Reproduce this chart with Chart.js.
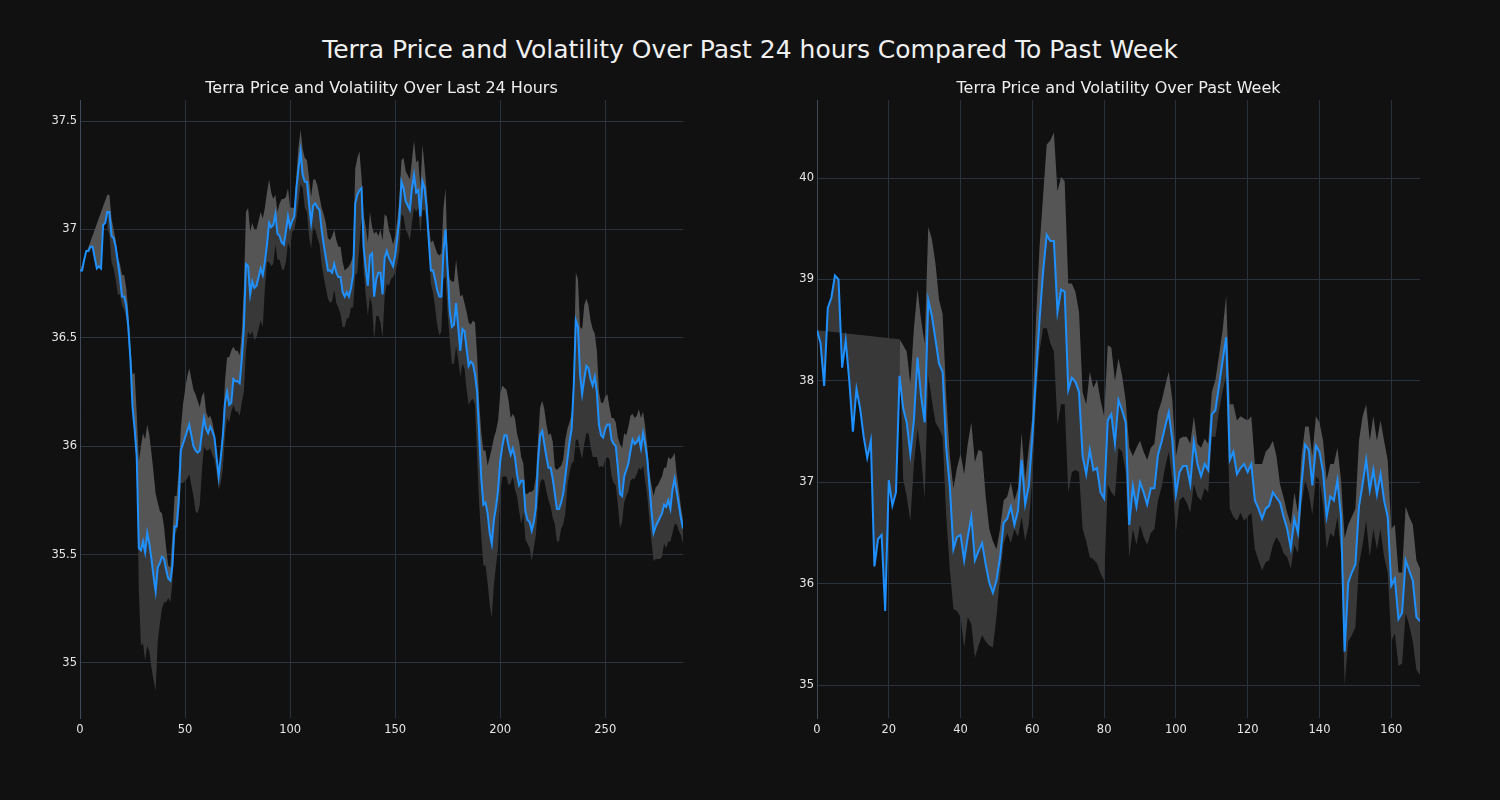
<!DOCTYPE html>
<html>
<head>
<meta charset="utf-8">
<title>Terra Price and Volatility</title>
<script src="https://cdn.jsdelivr.net/npm/chart.js@4.4.1/dist/chart.umd.min.js"></script>
<style>
  html, body { margin: 0; padding: 0; background: #111111; }
  body { width: 1500px; height: 800px; position: relative; overflow: hidden; font-family: 'DejaVu Sans', sans-serif; }
  #title { position: absolute; left: 0; top: 34px; width: 1500px; text-align: center; color: #f0f0f0; font-size: 25px; line-height: 32px; }
  canvas { position: absolute; }
  #dayChart { left: 20px; top: 70px; }
  #weekChart { left: 757px; top: 70px; }
</style>
</head>
<body>
<div id="title">Terra Price and Volatility Over Past 24 hours Compared To Past Week</div>
<canvas id="dayChart" width="680" height="700"></canvas>
<canvas id="weekChart" width="680" height="700"></canvas>
<script>
// Last 24 hours, 5 minute steps (index 0..287)
const dayPrice = [
  36.81, 36.81, 36.86, 36.90, 36.90, 36.92, 36.92, 36.87, 36.82, 36.83,
  36.82, 37.02, 37.03, 37.08, 37.08, 36.97, 36.96, 36.92, 36.85, 36.78,
  36.69, 36.69, 36.65, 36.55, 36.40, 36.18, 36.08, 35.95, 35.53, 35.52,
  35.56, 35.51, 35.60, 35.55, 35.48, 35.40, 35.33, 35.44, 35.46, 35.49,
  35.48, 35.43, 35.39, 35.38, 35.45, 35.63, 35.63, 35.75, 35.98, 36.01,
  36.04, 36.07, 36.10, 36.05, 36.00, 35.98, 35.97, 35.98, 36.06, 36.13,
  36.08, 36.06, 36.09, 36.07, 36.04, 35.95, 35.86, 35.95, 36.05, 36.20,
  36.25, 36.19, 36.20, 36.31, 36.30, 36.30, 36.29, 36.40, 36.55, 36.84,
  36.83, 36.70, 36.76, 36.73, 36.74, 36.78, 36.82, 36.79, 36.85, 36.93,
  37.03, 37.01, 37.02, 37.07, 36.98, 36.97, 36.94, 36.93, 36.99, 37.06,
  37.01, 37.04, 37.06, 37.19, 37.28, 37.36, 37.25, 37.22, 37.22, 37.12,
  37.03, 37.11, 37.12, 37.10, 37.09, 37.00, 36.93, 36.87, 36.81, 36.81,
  36.80, 36.84, 36.80, 36.78, 36.78, 36.71, 36.69, 36.71, 36.69, 36.73,
  36.79, 37.12, 37.16, 37.18, 37.19, 36.92, 36.82, 36.74, 36.88, 36.89,
  36.69, 36.77, 36.80, 36.80, 36.70, 36.87, 36.90, 36.87, 36.85, 36.83,
  36.88, 36.96, 37.05, 37.22, 37.19, 37.13, 37.11, 37.09, 37.19, 37.25,
  37.17, 37.18, 37.06, 37.22, 37.19, 37.10, 36.95, 36.81, 36.81, 36.77,
  36.72, 36.69, 36.69, 36.90, 37.00, 36.81, 36.62, 36.55, 36.56, 36.66,
  36.55, 36.44, 36.54, 36.53, 36.45, 36.37, 36.39, 36.38, 36.33, 36.25,
  36.05, 35.85, 35.73, 35.74, 35.69, 35.60, 35.55, 35.66, 35.72, 35.80,
  35.93, 36.00, 36.05, 36.05, 36.00, 35.96, 35.99, 35.95, 35.87, 35.82,
  35.84, 35.84, 35.70, 35.66, 35.65, 35.61, 35.65, 35.72, 35.93, 36.05,
  36.07, 36.01, 35.95, 35.90, 35.90, 35.85, 35.78, 35.71, 35.71, 35.74,
  35.78, 35.86, 35.94, 36.02, 36.08, 36.28, 36.58, 36.55, 36.33, 36.24,
  36.31, 36.37, 36.36, 36.31, 36.28, 36.32, 36.25, 36.10, 36.05, 36.04,
  36.08, 36.10, 36.10, 36.03, 36.01, 36.00, 35.90, 35.78, 35.77, 35.86,
  35.89, 35.92, 35.98, 36.03, 36.01, 36.02, 36.04, 35.99, 36.06, 36.01,
  35.94, 35.82, 35.70, 35.60, 35.63, 35.65, 35.67, 35.69, 35.73, 35.72,
  35.75, 35.71, 35.80, 35.85, 35.79, 35.73, 35.67, 35.62
];
// distance from price up to the top of the volatility band
const dayBandUp = [
  0, null, null, null, null, null, null, null, null, null,
  null, null, null, 0.08, 0.08, 0.08, 0.04, 0.03, 0.02, 0.06,
  0.10, 0.10, 0.08, 0.07, 0.06, 0.15, 0.26, 0.20, 0.40, 0.48,
  0.50, 0.52, 0.50, 0.50, 0.49, 0.48, 0.45, 0.30, 0.24, 0.20,
  0.15, 0.10, 0.06, 0.06, 0.14, 0.14, 0.14, 0.14, 0.10, 0.18,
  0.22, 0.25, 0.26, 0.26, 0.26, 0.26, 0.24, 0.20, 0.17, 0.12,
  0.08, 0.07, 0.05, 0.04, 0.02, 0.02, 0.02, 0.02, 0.04, 0.10,
  0.16, 0.22, 0.24, 0.15, 0.14, 0.14, 0.13, 0.12, 0.18, 0.24,
  0.27, 0.29, 0.27, 0.27, 0.26, 0.26, 0.26, 0.26, 0.25, 0.24,
  0.20, 0.16, 0.12, 0.09, 0.10, 0.15, 0.20, 0.21, 0.16, 0.13,
  0.09, 0.06, 0.04, 0.06, 0.10, 0.10, 0.12, 0.11, 0.10, 0.12,
  0.12, 0.12, 0.11, 0.10, 0.06, 0.10, 0.14, 0.16, 0.15, 0.14,
  0.17, 0.16, 0.15, 0.14, 0.14, 0.14, 0.12, 0.11, 0.14, 0.12,
  0.09, 0.16, 0.17, 0.18, 0.05, 0.15, 0.19, 0.20, 0.20, 0.12,
  0.29, 0.22, 0.17, 0.20, 0.25, 0.20, 0.16, 0.13, 0.12, 0.10,
  0.09, 0.08, 0.09, 0.10, 0.14, 0.14, 0.14, 0.14, 0.13, 0.16,
  0.14, 0.14, 0.13, 0.17, 0.10, 0.08, 0.07, 0.13, 0.14, 0.15,
  0.17, 0.19, 0.20, 0.20, 0.19, 0.04, 0.15, 0.21, 0.20, 0.20,
  0.22, 0.25, 0.16, 0.13, 0.17, 0.20, 0.17, 0.20, 0.24, 0.17,
  0.15, 0.21, 0.25, 0.24, 0.22, 0.35, 0.44, 0.38, 0.35, 0.32,
  0.31, 0.28, 0.22, 0.21, 0.21, 0.17, 0.16, 0.18, 0.19, 0.20,
  0.11, 0.08, 0.08, 0.12, 0.14, 0.18, 0.15, 0.14, 0.10, 0.13,
  0.14, 0.16, 0.15, 0.15, 0.16, 0.17, 0.12, 0.18, 0.19, 0.17,
  0.16, 0.17, 0.14, 0.09, 0.07, 0.06, 0.22, 0.22, 0.22, 0.30,
  0.34, 0.31, 0.29, 0.27, 0.26, 0.20, 0.19, 0.15, 0.15, 0.16,
  0.15, 0.14, 0.08, 0.10, 0.12, 0.11, 0.14, 0.23, 0.22, 0.20,
  0.16, 0.17, 0.16, 0.12, 0.12, 0.12, 0.13, 0.14, 0.10, 0.08,
  0.06, 0.06, 0.12, 0.17, 0.18, 0.17, 0.17, 0.17, 0.17, 0.18,
  0.20, 0.23, 0.15, 0.12, 0.08, 0.07, 0.05, 0.04
];
// distance from price down to the bottom of the volatility band
const dayBandDown = [
  null, null, null, null, null, null, null, null, null, null,
  null, null, null, 0.08, 0.10, 0.12, 0.14, 0.15, 0.15, 0.08,
  0.04, 0.06, 0.06, 0.05, 0.05, 0.04, 0.03, 0.03, 0.20, 0.44,
  0.47, 0.50, 0.52, 0.50, 0.50, 0.48, 0.46, 0.34, 0.28, 0.24,
  0.20, 0.15, 0.09, 0.10, 0.08, 0.04, 0.02, 0.08, 0.15, 0.18,
  0.20, 0.22, 0.23, 0.23, 0.23, 0.28, 0.28, 0.25, 0.18, 0.13,
  0.10, 0.08, 0.10, 0.11, 0.10, 0.07, 0.06, 0.12, 0.15, 0.15,
  0.12, 0.08, 0.04, 0.12, 0.14, 0.14, 0.15, 0.20, 0.30, 0.40,
  0.30, 0.19, 0.23, 0.24, 0.24, 0.24, 0.24, 0.24, 0.12, 0.08,
  0.18, 0.18, 0.18, 0.14, 0.12, 0.11, 0.12, 0.12, 0.14, 0.12,
  0.10, 0.05, 0.06, 0.14, 0.15, 0.15, 0.06, 0.12, 0.14, 0.15,
  0.12, 0.10, 0.12, 0.14, 0.16, 0.16, 0.15, 0.14, 0.13, 0.15,
  0.13, 0.12, 0.14, 0.14, 0.17, 0.16, 0.14, 0.12, 0.10, 0.09,
  0.15, 0.33, 0.36, 0.25, 0.13, 0.11, 0.12, 0.14, 0.19, 0.24,
  0.20, 0.17, 0.20, 0.23, 0.20, 0.18, 0.15, 0.13, 0.08, 0.05,
  0.08, 0.12, 0.15, 0.15, 0.13, 0.13, 0.13, 0.14, 0.16, 0.15,
  0.09, 0.08, 0.08, 0.13, 0.10, 0.06, 0.03, 0.06, 0.10, 0.13,
  0.16, 0.18, 0.16, 0.13, 0.22, 0.20, 0.13, 0.17, 0.18, 0.20,
  0.15, 0.12, 0.16, 0.17, 0.19, 0.18, 0.18, 0.16, 0.14, 0.30,
  0.32, 0.27, 0.28, 0.29, 0.32, 0.33, 0.34, 0.30, 0.27, 0.27,
  0.15, 0.14, 0.19, 0.19, 0.18, 0.13, 0.13, 0.15, 0.10, 0.12,
  0.20, 0.15, 0.13, 0.11, 0.12, 0.14, 0.12, 0.13, 0.18, 0.22,
  0.22, 0.17, 0.16, 0.15, 0.18, 0.18, 0.14, 0.15, 0.15, 0.12,
  0.14, 0.17, 0.12, 0.14, 0.16, 0.35, 0.55, 0.52, 0.35, 0.30,
  0.30, 0.31, 0.30, 0.31, 0.33, 0.37, 0.30, 0.20, 0.14, 0.14,
  0.14, 0.15, 0.16, 0.17, 0.18, 0.18, 0.17, 0.16, 0.12, 0.12,
  0.12, 0.13, 0.14, 0.18, 0.16, 0.15, 0.14, 0.10, 0.15, 0.17,
  0.17, 0.16, 0.14, 0.13, 0.15, 0.17, 0.19, 0.20, 0.18, 0.19,
  0.19, 0.15, 0.20, 0.21, 0.15, 0.12, 0.08, 0.07
];

// Past week, hourly (index 0..168)
const weekPrice = [
  38.50, 38.37, 37.95, 38.72, 38.82, 39.04, 39.00, 38.13, 38.40, 38.00,
  37.50, 37.92, 37.73, 37.45, 37.24, 37.41, 36.17, 36.44, 36.48, 35.73,
  37.02, 36.77, 36.90, 38.05, 37.73, 37.59, 37.28, 37.61, 38.23, 37.85,
  37.59, 38.80, 38.64, 38.41, 38.17, 38.09, 37.34, 36.96, 36.34, 36.46,
  36.48, 36.23, 36.46, 36.66, 36.23, 36.32, 36.40, 36.19, 36.01, 35.91,
  36.03, 36.26, 36.60, 36.64, 36.76, 36.58, 36.72, 37.22, 36.78, 36.96,
  37.45, 38.05, 38.60, 39.08, 39.44, 39.38, 39.38, 38.68, 38.90, 38.88,
  37.91, 38.03, 37.99, 37.89, 37.26, 37.08, 37.32, 37.12, 37.14, 36.90,
  36.84, 37.61, 37.67, 37.38, 37.81, 37.71, 37.59, 36.58, 36.96, 36.76,
  37.00, 36.90, 36.78, 36.94, 36.94, 37.27, 37.40, 37.55, 37.69, 37.41,
  36.88, 37.10, 37.16, 37.16, 36.98, 37.40, 37.18, 37.06, 37.18, 37.12,
  37.67, 37.71, 37.95, 38.20, 38.43, 37.22, 37.30, 37.08, 37.14, 37.18,
  37.10, 37.18, 36.82, 36.74, 36.64, 36.74, 36.77, 36.90, 36.85, 36.80,
  36.66, 36.54, 36.35, 36.64, 36.50, 36.98, 37.37, 37.32, 36.97, 37.36,
  37.30, 37.10, 36.66, 36.86, 36.82, 37.02, 36.66, 35.33, 36.01, 36.11,
  36.19, 36.76, 36.98, 37.22, 36.92, 37.12, 36.88, 37.08, 36.82, 36.66,
  35.98, 36.05, 35.65, 35.71, 36.23, 36.13, 36.03, 35.67, 35.63
];
const weekUpper = [
  null, null, null, null, null, null, null, null, null, null,
  null, null, null, null, null, null, null, null, null, null,
  null, null, null, 38.41, 38.35, 38.29, 37.97, 38.52, 38.90, 38.60,
  38.37, 39.52, 39.40, 39.16, 38.80, 38.66, 37.85, 37.26, 36.94, 37.14,
  37.28, 37.08, 37.38, 37.59, 37.20, 37.32, 37.30, 36.86, 36.54, 36.42,
  36.34, 36.54, 36.82, 36.86, 37.00, 36.82, 36.94, 37.49, 37.02, 37.34,
  37.65, 38.60, 39.32, 39.83, 40.33, 40.37, 40.45, 39.87, 40.01, 39.97,
  38.96, 38.96, 38.88, 38.68, 37.89, 37.77, 38.09, 37.93, 38.01, 37.81,
  37.65, 38.35, 38.33, 38.00, 38.22, 38.05, 37.81, 37.34, 37.26, 37.34,
  37.41, 37.30, 37.22, 37.34, 37.38, 37.69, 37.80, 37.95, 38.09, 37.81,
  37.26, 37.43, 37.45, 37.45, 37.38, 37.65, 37.38, 37.34, 37.43, 37.38,
  37.89, 38.01, 38.25, 38.50, 38.84, 37.77, 37.77, 37.61, 37.65, 37.63,
  37.61, 37.65, 37.18, 37.18, 37.18, 37.30, 37.34, 37.41, 37.26, 36.98,
  36.85, 36.70, 36.58, 36.90, 36.70, 37.26, 37.55, 37.55, 37.26, 37.65,
  37.59, 37.41, 37.02, 37.18, 37.18, 37.34, 37.02, 36.45, 36.58, 36.66,
  36.74, 37.41, 37.65, 37.77, 37.41, 37.65, 37.41, 37.61, 37.41, 37.22,
  36.54, 36.58, 36.11, 36.11, 36.76, 36.66, 36.58, 36.23, 36.15
];
const weekLower = [
  38.50, null, null, null, null, null, null, null, null, null,
  null, null, null, null, null, null, null, null, null, null,
  null, null, null, 38.41, 37.03, 36.86, 36.62, 37.18, 37.53, 37.26,
  36.84, 38.05, 37.81, 37.59, 37.53, 37.45, 36.66, 36.15, 35.75, 35.73,
  35.67, 35.37, 35.67, 35.60, 35.27, 35.39, 35.49, 35.43, 35.39, 35.37,
  35.67, 36.07, 36.40, 36.50, 36.40, 36.54, 36.46, 36.66, 36.42, 36.58,
  37.06, 37.81, 38.29, 38.52, 38.52, 38.37, 38.29, 37.57, 37.77, 37.77,
  36.90, 37.10, 37.12, 37.10, 36.54, 36.42, 36.26, 36.24, 36.20, 36.10,
  36.03, 36.98, 36.90, 36.86, 37.34, 37.30, 37.10, 36.26, 36.54, 36.38,
  36.58, 36.46, 36.38, 36.50, 36.54, 36.82, 36.95, 37.15, 37.30, 37.02,
  36.50, 36.82, 36.86, 36.80, 36.70, 36.98, 36.86, 36.82, 36.94, 36.90,
  37.45, 37.45, 37.70, 37.90, 38.05, 36.74, 36.66, 36.62, 36.70, 36.62,
  36.66, 36.70, 36.34, 36.23, 36.13, 36.21, 36.23, 36.38, 36.46, 36.40,
  36.30, 36.26, 36.15, 36.38, 36.30, 36.78, 37.02, 36.90, 36.68, 37.06,
  37.02, 36.78, 36.34, 36.50, 36.46, 36.66, 36.30, 35.00, 35.43, 35.49,
  35.57, 36.19, 36.38, 36.62, 36.26, 36.54, 36.34, 36.54, 36.26, 36.11,
  35.43, 35.51, 35.19, 35.21, 35.71, 35.59, 35.43, 35.15, 35.10
];

const dayUpper = dayPrice.map((p, i) => dayBandUp[i] === null ? null : p + dayBandUp[i]);
const dayLower = dayPrice.map((p, i) => dayBandDown[i] === null ? null : p - dayBandDown[i]);

const toPoints = arr => arr.map((v, i) => ({ x: i, y: v }));

const tickFont = { family: 'DejaVu Sans', size: 11.5 };
const gridColor = '#29323d';

function drawPanel(id, title, price, upper, lower, cfg) {
  return new Chart(document.getElementById(id), {
    type: 'line',
    data: {
      datasets: [
        { data: toPoints(price), borderColor: '#1E90FF', borderWidth: 2, pointRadius: 0, tension: 0, fill: false },
        { data: toPoints(upper), borderColor: 'transparent', borderWidth: 0, pointRadius: 0,
          backgroundColor: '#555555', fill: { target: 0 }, spanGaps: cfg.upperSpan },
        { data: toPoints(lower), borderColor: 'transparent', borderWidth: 0, pointRadius: 0,
          backgroundColor: '#383838', fill: { target: 0 }, spanGaps: cfg.lowerSpan }
      ]
    },
    options: {
      responsive: false,
      animation: false,
      events: [],
      layout: { padding: { left: 0, right: 17, top: 0, bottom: 0 } },
      plugins: {
        legend: { display: false },
        tooltip: { enabled: false },
        title: {
          display: true, text: title, color: '#eeeeee',
          fullSize: false, // centre over the plot area only
          font: { family: 'DejaVu Sans', size: 16, weight: 'normal' },
          padding: { top: 9.4, bottom: 1.4 }
        }
      },
      scales: {
        x: {
          type: 'linear', min: 0, max: cfg.xMax,
          ticks: { stepSize: cfg.xStep, includeBounds: false, color: '#e6e6e6', font: tickFont, padding: 5, maxRotation: 0 },
          grid: { color: gridColor, drawTicks: false },
          border: { display: false },
          afterFit: s => { s.height = 52; }
        },
        y: {
          type: 'linear', min: cfg.yMin, max: cfg.yMax,
          ticks: {
            stepSize: cfg.yStep, includeBounds: false, color: '#e6e6e6', font: tickFont, padding: 3,
            callback: v => String(Math.round(v * 100) / 100)
          },
          grid: { color: gridColor, drawTicks: false },
          border: { display: true, color: '#3d4b5a' },
          afterFit: s => { s.width = 60; }
        }
      }
    }
  });
}

drawPanel('dayChart', 'Terra Price and Volatility Over Last 24 Hours', dayPrice, dayUpper, dayLower,
  { xMax: 287, xStep: 50, yMin: 34.746, yMax: 37.597, yStep: 0.5, upperSpan: true, lowerSpan: false });
drawPanel('weekChart', 'Terra Price and Volatility Over Past Week', weekPrice, weekUpper, weekLower,
  { xMax: 168, xStep: 20, yMin: 34.675, yMax: 40.77, yStep: 1, upperSpan: false, lowerSpan: true });
</script>
</body>
</html>
